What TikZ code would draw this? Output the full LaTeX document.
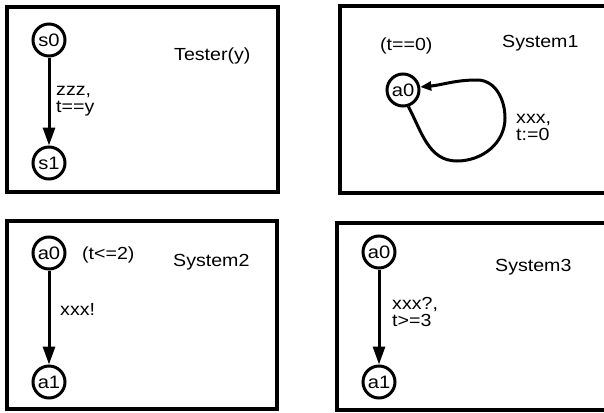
\documentclass[tikz,border=0pt]{standalone}
\usepackage{fontspec}
\setmainfont{Liberation Sans}[FakeStretch=1.12]
\usetikzlibrary{arrows.meta}
\begin{document}
\begin{tikzpicture}[x=1pt,y=-1pt,
  frame/.style={draw, line width=4pt},
  state/.style={circle, draw, line width=3pt, inner sep=0pt, minimum size=32pt,
    font=\fontsize{18}{20}\selectfont},
  lbl/.style={anchor=base west, inner sep=0pt,
    font=\fontsize{17.5}{15}\selectfont},
  edge/.style={line width=3pt, -{Triangle[length=18pt,width=12pt]}},
  loopedge/.style={line width=3pt, -{Triangle[length=11pt,width=9pt]}}]
\useasboundingbox (0,0) rectangle (604,412);

% four automata frames
\draw[frame] (7,7) rectangle (278,192);
\draw[frame] (340,6) rectangle (610,193);
\draw[frame] (7,221) rectangle (277,409);
\draw[frame] (337,223) rectangle (610,410);

% Tester(y)
\node[state] (s0) at (49,40) {s0};
\node[state] (s1) at (49,163) {s1};
\draw[edge] (s0) -- (s1);
\node[lbl] (tzzz) at (56,95) {zzz,};
\node[lbl] (tguard) at (56,112) {t==y};
\node[lbl] (ttitle) at (174,60) {Tester(y)};

% System1
\node[state] (b0) at (403,90) {a0};
\coordinate (lbot) at (457,161);
\coordinate (lright) at (505,118);
\coordinate (ltop) at (477,80);
\draw[loopedge] (b0.-72) to[out=-62,in=180] (lbot)
  to[out=0,in=-90] (lright) to[out=90,in=0] (ltop)
  to[out=180,in=5] (b0.10);
\node[lbl] (inv1) at (380,50) {(t==0)};
\node[lbl] (title1) at (502,48) {System1};
\node[lbl] (xxx1) at (516,123) {xxx,};
\node[lbl] (reset1) at (516,140) {t:=0};

% System2
\node[state] (c0) at (49,253) {a0};
\node[state] (c1) at (49,382) {a1};
\draw[edge] (c0) -- (c1);
\node[lbl] (inv2) at (82,259) {(t<=2)};
\node[lbl] (title2) at (173,266) {System2};
\node[lbl] (send2) at (60,315) {xxx!};

% System3
\node[state] (d0) at (379,252) {a0};
\node[state] (d1) at (379,382) {a1};
\draw[edge] (d0) -- (d1);
\node[lbl] (title3) at (495,271) {System3};
\node[lbl] (recv3) at (392,309) {xxx?,};
\node[lbl] (guard3) at (392,326) {t>=3};
\end{tikzpicture}
\end{document}
